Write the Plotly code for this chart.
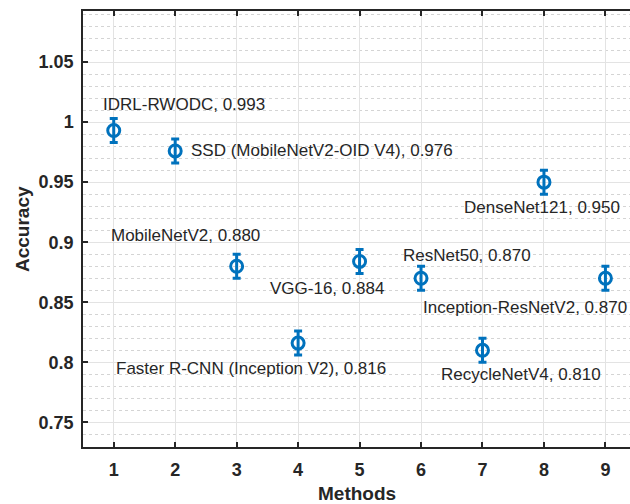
import plotly.graph_objects as go

methods = [1, 2, 3, 4, 5, 6, 7, 8, 9]
names = ["IDRL-RWODC", "SSD (MobileNetV2-OID V4)", "MobileNetV2",
         "Faster R-CNN (Inception V2)", "VGG-16", "ResNet50",
         "RecycleNetV4", "DenseNet121", "Inception-ResNetV2"]
accuracy = [0.993, 0.976, 0.880, 0.816, 0.884, 0.870, 0.810, 0.950, 0.870]
err = [0.01] * 9
y_ticks = [0.75, 0.8, 0.85, 0.9, 0.95, 1.0, 1.05]
y_ticktext = ["0.75", "0.8", "0.85", "0.9", "0.95", "1", "1.05"]

# label pixel offsets (layout only)
label_dx = [-13, 14, -128, -184, -92, -20, -43, -82, -184]
label_dy = [-26, 0, -31, 25, 27, -23, 24, 25, 29]

blue = "#0072BD"
axis_col = "#262626"
FONT = "Liberation Sans, Arial"

fig = go.Figure()
fig.add_trace(go.Scatter(
    x=methods, y=accuracy, mode="markers",
    marker=dict(symbol="circle-open", size=12, color=blue, line=dict(width=3, color=blue)),
    error_y=dict(type="data", array=err, visible=True, color=blue, thickness=3, width=4),
    showlegend=False, cliponaxis=False,
))

for x, y, n, dx, dy in zip(methods, accuracy, names, label_dx, label_dy):
    fig.add_annotation(x=x, y=y, text=f"{n}, {y:.3f}", showarrow=False,
                       xanchor="left", yanchor="middle", xshift=dx, yshift=-dy,
                       font=dict(family=FONT, size=17, color=axis_col))

# axis titles
fig.add_annotation(xref="paper", yref="paper", x=0, y=0.5, xshift=-61,
                   text="<b>Accuracy</b>", textangle=-90, showarrow=False,
                   xanchor="center", yanchor="middle",
                   font=dict(family=FONT, size=19, color=axis_col))
fig.add_annotation(xref="paper", yref="paper", x=0.5, y=0, yshift=-46,
                   text="<b>Methods</b>", showarrow=False,
                   xanchor="center", yanchor="middle",
                   font=dict(family=FONT, size=19, color=axis_col))

fig.update_layout(
    width=630, height=504,
    margin=dict(l=83, r=0, t=11, b=57, autoexpand=False),
    paper_bgcolor="white", plot_bgcolor="white",
    font=dict(family=FONT, color=axis_col),
    xaxis=dict(
        range=[0.5, 9.4], tickvals=methods, ticktext=[str(m) for m in methods],
        ticks="inside", ticklen=5, tickcolor=axis_col, tickwidth=1.5,
        showline=True, linecolor=axis_col, linewidth=1.5, mirror="ticks",
        showgrid=True, gridcolor="#e3e3e3", gridwidth=1, zeroline=False,
        tickfont=dict(size=18, family=FONT, weight="bold"),
        ticklabelstandoff=6, automargin=False,
    ),
    yaxis=dict(
        range=[0.7295, 1.0925], tickvals=y_ticks, ticktext=y_ticktext,
        ticks="inside", ticklen=5, tickcolor=axis_col, tickwidth=1.5,
        showline=True, linecolor=axis_col, linewidth=1.5, mirror=False,
        showgrid=True, gridcolor="#e3e3e3", gridwidth=1, zeroline=False,
        minor=dict(dtick=0.01, tick0=0.75, showgrid=True, gridcolor="#d4d4d4",
                   griddash="dot", gridwidth=1, ticks=""),
        tickfont=dict(size=18, family=FONT, weight="bold"),
        ticklabelstandoff=4, automargin=False,
    ),
)

fig.write_html(
    "out.html",
    config={"displayModeBar": False},
    post_script=("document.body.style.margin='0';"
                 "document.body.style.overflow='hidden';"
                 "document.documentElement.style.overflow='hidden';"),
)
